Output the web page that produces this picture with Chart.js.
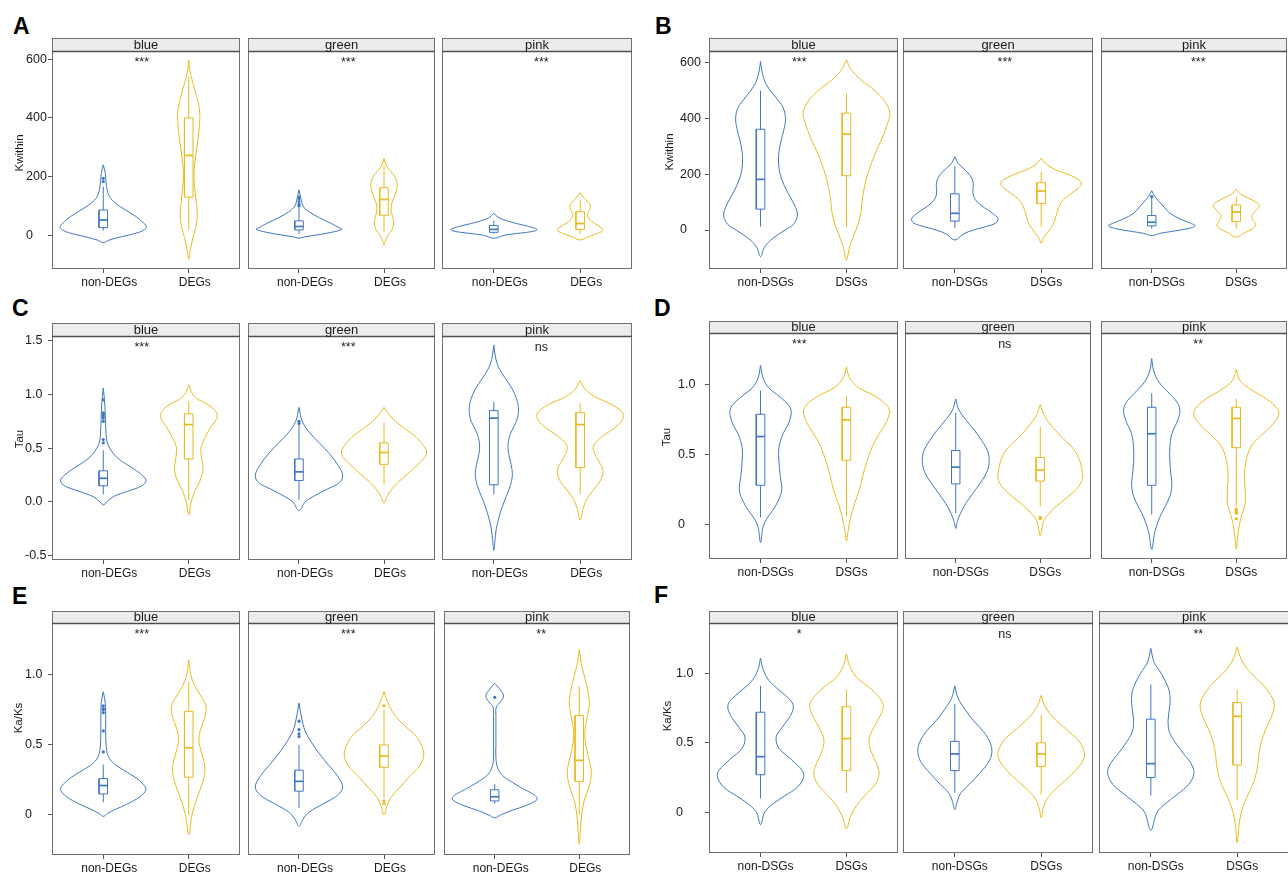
<!DOCTYPE html>
<html>
<head>
<meta charset="utf-8">
<script src="https://cdn.jsdelivr.net/npm/chart.js@4.4.0/dist/chart.umd.min.js"></script>
<style>
  html, body { margin:0; padding:0; background:#fff; }
  body { position:relative; width:1288px; height:872px; overflow:hidden;
         font-family:"Liberation Sans", Arial, Helvetica, sans-serif; }
  canvas { position:absolute; }
  .lbl { position:absolute; font-weight:bold; font-size:23px; line-height:23px; color:#000; }
</style>
</head>
<body>
<div class="lbl" style="left:13px;top:15px">A</div>
<div class="lbl" style="left:655px;top:15px">B</div>
<div class="lbl" style="left:12px;top:297px">C</div>
<div class="lbl" style="left:654px;top:297px">D</div>
<div class="lbl" style="left:12px;top:585px">E</div>
<div class="lbl" style="left:654px;top:584px">F</div>
<script>
// ---------------- DATA ----------------
const facetNames = ['blue', 'green', 'pink'];
const catsDEG = ['non-DEGs', 'DEGs'];
const catsDSG = ['non-DSGs', 'DSGs'];

const sigA = ['***', '***', '***'];
const sigB = ['***', '***', '***'];
const sigC = ['***', '***', 'ns'];
const sigD = ['***', 'ns', '**'];
const sigE = ['***', '***', '**'];
const sigF = ['*', 'ns', '**'];

const yTicksKw = [0, 200, 400, 600];
const yTickLabelsKw = ['0', '200', '400', '600'];
const yTicksTauC = [-0.5, 0, 0.5, 1, 1.5];
const yTickLabelsTauC = ['-0.5', '0.0', '0.5', '1.0', '1.5'];
const yTicks01 = [0, 0.5, 1];
const yTickLabels01 = ['0', '0.5', '1.0'];

// violin profiles: [value, relative half-width]  ; box: [lowWhisker, Q1, median, Q3, highWhisker] ; outliers
// ---- A (Kwithin, DEGs)
const vA_blue_non = [[240,0],[211,5],[166,8],[132,15],[109,30],[86,55],[64,80],[47,95],[30,106],[18,100],[7,80],[-5,45],[-16,15],[-25,0]];
const bA_blue_non = [16,26,52,86,166];
const oA_blue_non = [183,194];
const vA_blue_deg = [[598,0],[560,3],[520,10],[470,20],[420,27],[370,26],[320,22],[270,17],[220,13],[170,14],[120,18],[70,21],[30,18],[-10,10],[-50,4],[-82,0]];
const bA_blue_deg = [18,130,272,400,540];
const oA_blue_deg = [];
const vA_green_non = [[155,0],[130,4],[100,10],[80,25],[60,50],[40,80],[25,100],[20,106],[10,80],[0,40],[-5,15],[-10,0]];
const bA_green_non = [5,18,30,49,95];
const oA_green_non = [100,105,115,125,130];
const vA_green_deg = [[262,0],[240,5],[220,15],[200,27],[180,32],[160,32],[140,28],[120,22],[100,18],[80,18],[60,22],[40,24],[20,20],[0,10],[-20,3],[-33,0]];
const bA_green_deg = [10,68,122,162,240];
const oA_green_deg = [];
const vA_pink_non = [[75,0],[60,12],[50,30],[40,55],[30,85],[20,105],[15,100],[10,80],[5,50],[0,25],[-10,0]];
const bA_pink_non = [5,10,20,33,50];
const oA_pink_non = [];
const vA_pink_deg = [[145,0],[130,8],[115,18],[100,25],[85,22],[70,18],[55,22],[40,35],[25,52],[15,54],[5,40],[-5,20],[-16,0]];
const bA_pink_deg = [5,20,40,80,120];
const oA_pink_deg = [];

// ---- B (Kwithin, DSGs)
const vB_blue_non = [[605,0],[560,5],[520,15],[480,35],[440,55],[400,61],[360,57],[320,50],[280,45],[240,44],[200,48],[160,58],[120,72],[80,86],[50,90],[20,80],[0,60],[-30,30],[-60,10],[-96,0]];
const bB_blue_non = [12,75,182,362,500];
const oB_blue_non = [];
const vB_blue_dsg = [[611,0],[580,10],[540,35],[500,70],[460,95],[420,106],[380,100],[340,90],[300,78],[260,66],[220,56],[180,48],[140,42],[100,38],[60,35],[20,28],[-20,18],[-60,8],[-108,0]];
const bB_blue_dsg = [10,195,345,420,490];
const oB_blue_dsg = [];
const vB_green_non = [[263,0],[240,8],[220,22],[200,35],[180,43],[160,45],[140,44],[120,46],[100,55],[80,72],[60,92],[40,105],[25,100],[10,70],[0,45],[-15,20],[-36,0]];
const bB_green_non = [8,32,60,130,230];
const oB_green_non = [];
const vB_green_dsg = [[257,0],[240,10],[220,30],[200,65],[180,92],[165,98],[150,90],[130,72],[110,55],[90,45],[70,40],[50,36],[30,32],[10,25],[-10,15],[-30,5],[-48,0]];
const bB_green_dsg = [10,95,140,170,210];
const oB_green_dsg = [];
const vB_pink_non = [[141,0],[120,8],[100,20],[80,32],[60,45],[40,70],[25,95],[15,108],[5,90],[-5,50],[-12,20],[-20,0]];
const bB_pink_non = [5,15,28,52,115];
const oB_pink_non = [120];
const vB_pink_dsg = [[146,0],[130,10],[115,30],[100,50],[88,58],[75,52],[60,42],[50,38],[35,42],[20,48],[10,45],[0,35],[-10,20],[-26,0]];
const bB_pink_dsg = [5,30,65,90,120];
const oB_pink_dsg = [];

// ---- C (Tau, DEGs)
const vC_blue_non = [[1.06,0],[0.9,4],[0.7,6],[0.55,10],[0.45,25],[0.38,45],[0.32,70],[0.26,92],[0.2,105],[0.15,95],[0.1,60],[0.05,25],[0.0,8],[-0.03,0]];
const bC_blue_non = [0.07,0.15,0.22,0.29,0.48];
const oC_blue_non = [0.55,0.58,0.75,0.78,0.80,0.82,0.83,0.95];
const vC_blue_deg = [[1.09,0],[1.0,10],[0.95,25],[0.9,50],[0.85,65],[0.8,70],[0.75,65],[0.7,55],[0.6,40],[0.5,30],[0.4,32],[0.3,35],[0.2,28],[0.1,15],[0.0,6],[-0.12,0]];
const bC_blue_deg = [0.02,0.4,0.72,0.82,0.94];
const oC_blue_deg = [];
const vC_green_non = [[0.88,0],[0.75,8],[0.65,25],[0.55,50],[0.45,75],[0.35,95],[0.25,108],[0.18,100],[0.12,70],[0.05,35],[0.0,15],[-0.08,0]];
const bC_green_non = [0.02,0.2,0.28,0.4,0.72];
const oC_green_non = [0.73,0.75];
const vC_green_deg = [[0.88,0],[0.8,15],[0.7,45],[0.6,80],[0.5,102],[0.45,105],[0.4,98],[0.3,70],[0.2,40],[0.1,15],[0.02,4],[-0.01,0]];
const bC_green_deg = [0.16,0.35,0.46,0.55,0.74];
const oC_green_deg = [];
const vC_pink_non = [[1.46,0],[1.35,4],[1.25,12],[1.15,28],[1.05,45],[0.95,56],[0.85,60],[0.75,55],[0.65,42],[0.55,35],[0.45,36],[0.35,42],[0.25,45],[0.15,40],[0.05,30],[-0.05,20],[-0.15,12],[-0.25,6],[-0.35,3],[-0.45,0]];
const bC_pink_non = [0.07,0.16,0.78,0.85,0.93];
const oC_pink_non = [];
const vC_pink_deg = [[1.13,0],[1.05,12],[0.98,35],[0.9,80],[0.82,105],[0.75,100],[0.68,80],[0.6,50],[0.52,32],[0.45,35],[0.38,45],[0.3,55],[0.22,52],[0.15,40],[0.05,20],[-0.05,8],[-0.17,0]];
const bC_pink_deg = [0.07,0.32,0.72,0.83,0.92];
const oC_pink_deg = [];

// ---- D (Tau, DSGs)
const vD_blue_non = [[1.14,0],[1.05,6],[0.98,20],[0.92,45],[0.85,70],[0.8,75],[0.72,68],[0.65,55],[0.55,45],[0.45,45],[0.35,48],[0.25,52],[0.18,45],[0.1,30],[0.04,15],[-0.02,6],[-0.13,0]];
const bD_blue_non = [0.05,0.28,0.63,0.79,0.96];
const oD_blue_non = [];
const vD_blue_dsg = [[1.13,0],[1.05,8],[0.98,30],[0.92,70],[0.85,100],[0.8,105],[0.72,95],[0.65,80],[0.55,62],[0.45,50],[0.35,40],[0.25,32],[0.15,20],[0.05,10],[-0.05,4],[-0.12,0]];
const bD_blue_dsg = [0.06,0.46,0.75,0.84,0.92];
const oD_blue_dsg = [];
const vD_green_non = [[0.9,0],[0.82,8],[0.75,25],[0.68,45],[0.6,65],[0.52,80],[0.45,83],[0.38,78],[0.3,62],[0.22,42],[0.15,25],[0.08,12],[0.02,4],[-0.03,0]];
const bD_green_non = [0.08,0.29,0.41,0.53,0.8];
const oD_green_non = [];
const vD_green_dsg = [[0.86,0],[0.78,10],[0.7,30],[0.62,55],[0.55,80],[0.48,95],[0.4,103],[0.33,105],[0.27,95],[0.2,70],[0.13,40],[0.07,20],[0.02,8],[-0.08,0]];
const bD_green_dsg = [0.13,0.31,0.39,0.48,0.7];
const oD_green_dsg = [0.04,0.05];
const vD_pink_non = [[1.19,0],[1.1,5],[1.02,18],[0.95,40],[0.88,62],[0.82,70],[0.75,65],[0.65,50],[0.55,45],[0.45,45],[0.35,48],[0.28,50],[0.2,45],[0.12,32],[0.05,20],[-0.05,8],[-0.18,0]];
const bD_pink_non = [0.07,0.28,0.65,0.84,0.94];
const oD_pink_non = [];
const vD_pink_dsg = [[1.11,0],[1.03,10],[0.97,35],[0.9,75],[0.83,102],[0.78,105],[0.7,85],[0.62,55],[0.55,35],[0.45,24],[0.35,20],[0.25,22],[0.15,22],[0.07,14],[0.0,8],[-0.1,3],[-0.18,0]];
const bD_pink_dsg = [0.13,0.55,0.76,0.84,0.9];
const oD_pink_dsg = [0.04,0.08,0.09,0.1,0.11];

// ---- E (Ka/Ks, DEGs)
const vE_blue_non = [[0.88,0],[0.8,5],[0.7,6],[0.6,6],[0.5,7],[0.42,12],[0.37,25],[0.32,50],[0.27,78],[0.22,98],[0.18,105],[0.13,90],[0.08,60],[0.04,30],[0.01,10],[-0.01,0]];
const bE_blue_non = [0.09,0.15,0.21,0.26,0.36];
const oE_blue_non = [0.45,0.6,0.73,0.75,0.76,0.78];
const vE_blue_deg = [[1.11,0],[1.0,5],[0.92,15],[0.85,30],[0.78,42],[0.7,40],[0.62,30],[0.55,25],[0.48,28],[0.4,36],[0.32,40],[0.25,36],[0.18,28],[0.1,18],[0.0,8],[-0.14,0]];
const bE_blue_deg = [0.0,0.27,0.48,0.74,0.95];
const oE_blue_deg = [];
const vE_green_non = [[0.8,0],[0.7,6],[0.6,15],[0.5,35],[0.42,55],[0.35,75],[0.28,95],[0.2,108],[0.14,95],[0.08,60],[0.02,25],[-0.03,10],[-0.08,0]];
const bE_green_non = [0.05,0.17,0.24,0.32,0.5];
const oE_green_non = [0.56,0.58,0.61,0.67];
const vE_green_deg = [[0.88,0],[0.8,10],[0.72,25],[0.64,50],[0.56,80],[0.48,95],[0.42,98],[0.35,88],[0.28,65],[0.2,40],[0.13,18],[0.07,8],[0.0,0]];
const bE_green_deg = [0.12,0.34,0.42,0.5,0.75];
const oE_green_deg = [0.08,0.1,0.78];
const vE_pink_non = [[0.94,0],[0.9,12],[0.85,22],[0.81,15],[0.77,4],[0.7,3],[0.5,3],[0.4,3],[0.33,8],[0.28,20],[0.23,45],[0.18,75],[0.14,100],[0.11,105],[0.07,80],[0.03,40],[0.0,15],[-0.02,0]];
const bE_pink_non = [0.08,0.1,0.13,0.18,0.22];
const oE_pink_non = [0.84];
const vE_pink_deg = [[1.18,0],[1.08,5],[1.0,12],[0.9,20],[0.8,25],[0.7,20],[0.6,14],[0.5,16],[0.4,24],[0.3,30],[0.2,24],[0.1,12],[0.0,6],[-0.1,3],[-0.21,0]];
const bE_pink_deg = [0.0,0.24,0.39,0.71,0.92];
const oE_pink_deg = [];

// ---- F (Ka/Ks, DSGs)
const vF_blue_non = [[1.11,0],[1.03,6],[0.95,20],[0.88,45],[0.8,75],[0.75,80],[0.68,70],[0.6,50],[0.54,38],[0.46,45],[0.38,75],[0.3,102],[0.25,105],[0.18,90],[0.12,60],[0.06,30],[0.0,10],[-0.09,0]];
const bF_blue_non = [0.1,0.27,0.4,0.72,0.91];
const oF_blue_non = [];
const vF_blue_dsg = [[1.14,0],[1.05,8],[0.97,25],[0.9,55],[0.82,82],[0.76,90],[0.68,80],[0.6,65],[0.52,55],[0.44,60],[0.36,72],[0.28,80],[0.2,70],[0.12,45],[0.05,25],[-0.03,10],[-0.12,0]];
const bF_blue_dsg = [0.14,0.3,0.53,0.76,0.88];
const oF_blue_dsg = [];
const vF_green_non = [[0.91,0],[0.82,8],[0.74,25],[0.66,45],[0.58,70],[0.5,86],[0.43,90],[0.36,82],[0.28,60],[0.2,35],[0.14,15],[0.08,6],[0.02,0]];
const bF_green_non = [0.14,0.3,0.42,0.51,0.78];
const oF_green_non = [];
const vF_green_dsg = [[0.84,0],[0.76,10],[0.68,30],[0.6,60],[0.52,90],[0.45,103],[0.4,105],[0.33,92],[0.26,70],[0.18,40],[0.1,15],[0.03,5],[-0.04,0]];
const bF_green_dsg = [0.13,0.33,0.42,0.5,0.7];
const oF_green_dsg = [];
const vF_pink_non = [[1.18,0],[1.08,8],[1.0,25],[0.9,42],[0.82,47],[0.74,45],[0.66,42],[0.58,45],[0.5,60],[0.42,80],[0.35,98],[0.28,105],[0.2,92],[0.13,65],[0.06,35],[0.0,15],[-0.13,0]];
const bF_pink_non = [0.12,0.25,0.35,0.67,0.92];
const oF_pink_non = [];
const vF_pink_dsg = [[1.19,0],[1.1,10],[1.02,28],[0.94,55],[0.86,78],[0.78,90],[0.7,85],[0.6,70],[0.5,58],[0.4,52],[0.3,48],[0.2,38],[0.1,22],[0.0,10],[-0.1,4],[-0.22,0]];
const bF_pink_dsg = [0.09,0.34,0.69,0.79,0.88];
const oF_pink_dsg = [];

// ---------------- STYLE / LAYOUT ----------------
const BLUE = '#3f77c1';
const YEL = '#e9ba1f';
const COLORS = [BLUE, YEL];
const FONT = '"Liberation Sans", Arial, Helvetica, sans-serif';
const WS = 1 / 210;     // relative half-width -> category units
const BOX_HW = 0.05;    // box half width in category units
const SIG_X = [1.45, 1.58, 1.55];   // x position of significance labels per facet

const COL_L = { base: 0,   facets: [[52, 242], [246, 437], [442, 632]], labelShift: 6 };
const COL_R = { base: 640, facets: [[709, 898], [903, 1093], [1099, 1289]], labelShift: 5 };

const panels = [
  { col: COL_L, stripTop: 38, plotTop: 51, plotBottom: 269, ymin: -115, ymax: 628,
    ticks: yTicksKw, tickLabels: yTickLabelsKw, title: 'Kwithin', titleX: 20, titleY: 153, labelLeft: 26,
    cats: catsDEG, sig: sigA,
    facets: [
      { v: [vA_blue_non, vA_blue_deg], b: [bA_blue_non, bA_blue_deg], o: [oA_blue_non, oA_blue_deg] },
      { v: [vA_green_non, vA_green_deg], b: [bA_green_non, bA_green_deg], o: [oA_green_non, oA_green_deg] },
      { v: [vA_pink_non, vA_pink_deg], b: [bA_pink_non, bA_pink_deg], o: [oA_pink_non, oA_pink_deg] } ] },
  { col: COL_R, stripTop: 38, plotTop: 51, plotBottom: 269, ymin: -140, ymax: 643,
    ticks: yTicksKw, tickLabels: yTickLabelsKw, title: 'Kwithin', titleX: 670, titleY: 152, labelLeft: 680,
    cats: catsDSG, sig: sigB,
    facets: [
      { v: [vB_blue_non, vB_blue_dsg], b: [bB_blue_non, bB_blue_dsg], o: [oB_blue_non, oB_blue_dsg] },
      { v: [vB_green_non, vB_green_dsg], b: [bB_green_non, bB_green_dsg], o: [oB_green_non, oB_green_dsg] },
      { v: [vB_pink_non, vB_pink_dsg], b: [bB_pink_non, bB_pink_dsg], o: [oB_pink_non, oB_pink_dsg] } ] },
  { col: COL_L, stripTop: 323, plotTop: 336, plotBottom: 560, ymin: -0.54, ymax: 1.544,
    ticks: yTicksTauC, tickLabels: yTickLabelsTauC, title: 'Tau', titleX: 20, titleY: 439, labelLeft: 25,
    cats: catsDEG, sig: sigC,
    facets: [
      { v: [vC_blue_non, vC_blue_deg], b: [bC_blue_non, bC_blue_deg], o: [oC_blue_non, oC_blue_deg] },
      { v: [vC_green_non, vC_green_deg], b: [bC_green_non, bC_green_deg], o: [oC_green_non, oC_green_deg] },
      { v: [vC_pink_non, vC_pink_deg], b: [bC_pink_non, bC_pink_deg], o: [oC_pink_non, oC_pink_deg] } ] },
  { col: COL_R, stripTop: 321, plotTop: 333, plotBottom: 559, ymin: -0.249, ymax: 1.373,
    ticks: yTicks01, tickLabels: yTickLabels01, title: 'Tau', titleX: 667, titleY: 437, labelLeft: 678,
    cats: catsDSG, sig: sigD,
    facets: [
      { v: [vD_blue_non, vD_blue_dsg], b: [bD_blue_non, bD_blue_dsg], o: [oD_blue_non, oD_blue_dsg] },
      { v: [vD_green_non, vD_green_dsg], b: [bD_green_non, bD_green_dsg], o: [oD_green_non, oD_green_dsg] },
      { v: [vD_pink_non, vD_pink_dsg], b: [bD_pink_non, bD_pink_dsg], o: [oD_pink_non, oD_pink_dsg] } ] },
  { col: COL_L, stripTop: 611, plotTop: 623, plotBottom: 855, ymin: -0.286, ymax: 1.371,
    ticks: yTicks01, tickLabels: yTickLabels01, title: 'Ka/Ks', titleX: 19, titleY: 718, labelLeft: 25,
    cats: catsDEG, sig: sigE,
    facets: [
      { v: [vE_blue_non, vE_blue_deg], b: [bE_blue_non, bE_blue_deg], o: [oE_blue_non, oE_blue_deg] },
      { v: [vE_green_non, vE_green_deg], b: [bE_green_non, bE_green_deg], o: [oE_green_non, oE_green_deg] },
      { v: [vE_pink_non, vE_pink_deg], b: [bE_pink_non, bE_pink_deg], o: [oE_pink_non, oE_pink_deg] } ] },
  { col: COL_R, stripTop: 611, plotTop: 623, plotBottom: 853, ymin: -0.293, ymax: 1.362,
    ticks: yTicks01, tickLabels: yTickLabels01, title: 'Ka/Ks', titleX: 668, titleY: 716, labelLeft: 676,
    cats: catsDSG, sig: sigF,
    facets: [
      { v: [vF_blue_non, vF_blue_dsg], b: [bF_blue_non, bF_blue_dsg], o: [oF_blue_non, oF_blue_dsg] },
      { v: [vF_green_non, vF_green_dsg], b: [bF_green_non, bF_green_dsg], o: [oF_green_non, oF_green_dsg] },
      { v: [vF_pink_non, vF_pink_dsg], b: [bF_pink_non, bF_pink_dsg], o: [oF_pink_non, oF_pink_dsg] } ] }
];

// ---------------- DRAWING ----------------
const facetPlugin = {
  id: 'facet',
  afterDraw(chart, args, o) {
    const { ctx, chartArea: a } = chart;
    ctx.save();
    // panel border
    ctx.strokeStyle = '#707070';
    ctx.lineWidth = 1;
    ctx.strokeRect(a.left + 0.5, a.top + 0.5, a.right - a.left - 1, a.bottom - a.top - 1);
    // strip
    const st = a.top - o.stripH;
    ctx.fillStyle = '#ececec';
    ctx.fillRect(a.left, st, a.right - a.left, o.stripH);
    ctx.strokeStyle = '#707070';
    ctx.strokeRect(a.left + 0.5, st + 0.5, a.right - a.left - 1, o.stripH);
    ctx.strokeStyle = '#505050';
    ctx.lineWidth = 1.6;
    ctx.beginPath(); ctx.moveTo(a.left, a.top + 0.5); ctx.lineTo(a.right, a.top + 0.5); ctx.stroke();
    ctx.fillStyle = '#1a1a1a';
    ctx.font = '13px ' + FONT;
    ctx.textAlign = 'center';
    ctx.textBaseline = 'alphabetic';
    ctx.fillText(o.strip, (a.left + a.right) / 2, a.top - 2);
    // significance label
    const xs = chart.scales.x.getPixelForValue(o.sigX);
    ctx.font = '12.5px ' + FONT;
    ctx.fillStyle = '#222';
    ctx.fillText(o.sig, xs, a.top + 15);
    // y title
    if (o.ytitle) {
      ctx.translate(o.tx, o.ty);
      ctx.rotate(-Math.PI / 2);
      ctx.font = '11.5px ' + FONT;
      ctx.textBaseline = 'middle';
      ctx.fillStyle = '#1a1a1a';
      ctx.fillText(o.ytitle, 0, 0);
    }
    ctx.restore();
  }
};

function violinPts(v, c) {
  const right = v.map(([y, w]) => ({ x: c + w * WS, y }));
  const left = v.slice(1, -1).reverse().map(([y, w]) => ({ x: c - w * WS, y }));
  return right.concat(left, [right[0]]);
}

function lineDs(data, color, width, tension) {
  return { data, showLine: true, borderColor: color, borderWidth: width, pointRadius: 0,
           tension: tension || 0, fill: false };
}

function makeFacet(panel, fi) {
  const col = panel.col;
  const [x0, x1] = col.facets[fi];
  const first = fi === 0;
  const cLeft = first ? col.base : x0 - 2;
  const padLeft = first ? panel.labelLeft - col.base : 2;
  const yW = x0 - cLeft - padLeft;
  const cTop = panel.stripTop - 2;
  const padTop = panel.plotTop - cTop;
  const XH = 28;
  const cW = x1 + 2 - cLeft;
  const cH = panel.plotBottom + XH - cTop;

  const canvas = document.createElement('canvas');
  canvas.width = cW; canvas.height = cH;
  canvas.style.left = cLeft + 'px'; canvas.style.top = cTop + 'px';
  canvas.style.width = cW + 'px'; canvas.style.height = cH + 'px';
  document.body.appendChild(canvas);

  const fd = panel.facets[fi];
  const ds = [];
  for (let k = 0; k < 2; k++) {
    const c = k + 1, color = COLORS[k];
    const b = fd.b[k];
    ds.push(lineDs(violinPts(fd.v[k], c), color, 1, 0.35));
    ds.push(lineDs([{ x: c, y: b[0] }, { x: c, y: b[1] }], color, 1));
    ds.push(lineDs([{ x: c, y: b[3] }, { x: c, y: b[4] }], color, 1));
    ds.push(lineDs([{ x: c - BOX_HW, y: b[1] }, { x: c + BOX_HW, y: b[1] }, { x: c + BOX_HW, y: b[3] },
                    { x: c - BOX_HW, y: b[3] }, { x: c - BOX_HW, y: b[1] }], color, 1));
    ds.push(lineDs([{ x: c - BOX_HW, y: b[2] }, { x: c + BOX_HW, y: b[2] }], color, 1.7));
    if (fd.o[k].length) {
      ds.push({ data: fd.o[k].map(y => ({ x: c, y })), showLine: false, pointRadius: 1.6,
                pointBackgroundColor: color, pointBorderWidth: 0 });
    }
  }

  new Chart(canvas, {
    type: 'scatter',
    data: { datasets: ds },
    options: {
      responsive: false, animation: false, devicePixelRatio: 1, events: [],
      layout: { padding: { left: padLeft, top: padTop, right: 2, bottom: 0 } },
      plugins: {
        legend: { display: false }, tooltip: { enabled: false },
        facet: { stripH: panel.plotTop - panel.stripTop, strip: facetNames[fi], sig: panel.sig[fi],
                 sigX: SIG_X[fi],
                 ytitle: first ? panel.title : '', tx: panel.titleX - cLeft, ty: panel.titleY - cTop }
      },
      scales: {
        x: {
          type: 'linear', min: 0.4, max: 2.6,
          afterBuildTicks: s => { s.ticks = [{ value: 1 }, { value: 2 }]; },
          afterFit: s => { s.height = XH; },
          ticks: { callback: v => panel.cats[Math.round(v) - 1], color: '#1a1a1a',
                   font: { family: FONT, size: 12 }, padding: 2, autoSkip: false, maxRotation: 0,
                   labelOffset: col.labelShift },
          grid: { display: true, drawOnChartArea: false, drawTicks: true, tickLength: 4, color: '#555' },
          border: { display: false }
        },
        y: {
          type: 'linear', min: panel.ymin, max: panel.ymax, display: first,
          afterBuildTicks: s => { s.ticks = panel.ticks.map(v => ({ value: v })); },
          afterFit: s => { s.width = yW; },
          ticks: { callback: v => panel.tickLabels[panel.ticks.indexOf(v)], color: '#1a1a1a',
                   font: { family: FONT, size: 12.5 }, padding: 2, autoSkip: false, crossAlign: 'far' },
          grid: { display: true, drawOnChartArea: false, drawTicks: true, tickLength: 4, color: '#555' },
          border: { display: false }
        }
      }
    },
    plugins: [facetPlugin]
  });
}

panels.forEach(p => { for (let f = 0; f < 3; f++) makeFacet(p, f); });
</script>
</body>
</html>
